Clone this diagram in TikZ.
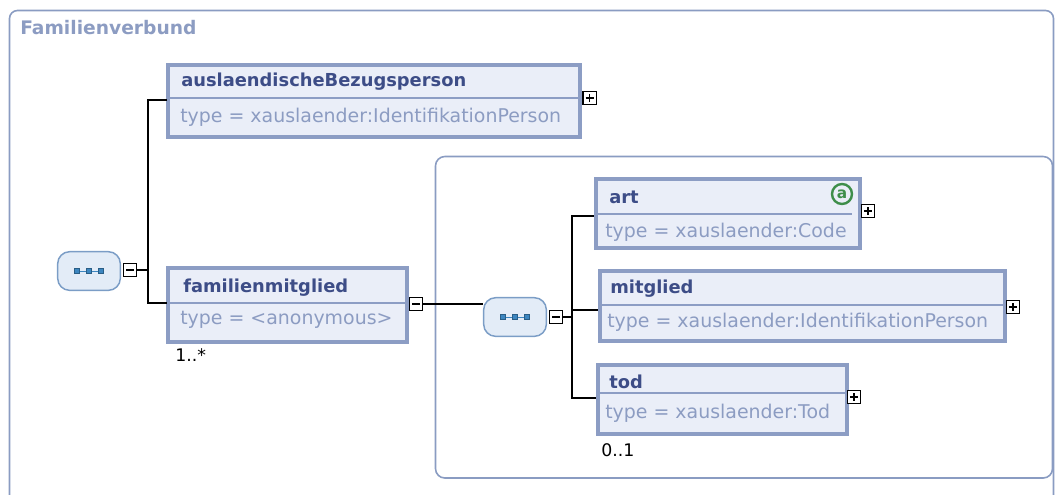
\documentclass[tikz,border=0pt]{standalone}
\usepackage{fontspec}
\setmainfont{DejaVu Sans}
\definecolor{frameC}{HTML}{8A9CC2}
\definecolor{boxB}{HTML}{8C9DC4}
\definecolor{boxF}{HTML}{EAEEF8}
\definecolor{headT}{HTML}{3D4D87}
\definecolor{typeT}{HTML}{8C9CC2}
\definecolor{seqB}{HTML}{7B9DC6}
\definecolor{seqF}{HTML}{E3ECF7}
\definecolor{seqI}{HTML}{3C86C0}
\definecolor{attrG}{HTML}{3E8E4A}
\tikzset{
  x=0.75pt, y=-0.75pt,
  elbox/.style={draw=boxB, fill=boxF, line width=2.4pt},
  divline/.style={draw=boxB, line width=1.1pt},
  headtxt/.style={font=\fontsize{13.4}{15}\selectfont\bfseries, text=headT, anchor=west, inner sep=0pt},
  typetxt/.style={font=\fontsize{14.2}{16}\selectfont, text=typeT, anchor=west, inner sep=0pt},
  conn/.style={draw=black, line width=1.1pt},
  togbox/.style={draw=black, fill=white, line width=1pt, minimum width=10pt, minimum height=10pt, inner sep=0pt},
  seqnode/.style={draw=seqB, fill=seqF, line width=1.1pt, rounded corners=9pt, minimum width=47pt, minimum height=29pt},
  card/.style={font=\fontsize{13}{15}\selectfont, anchor=west, inner sep=0pt},
  sqI/.style={draw=seqI!70!black, fill=seqI, line width=0.4pt, minimum size=4pt, inner sep=0pt},
  plusmark/.style={line width=1pt},
}
\begin{document}
\begin{tikzpicture}
\useasboundingbox (0,0) rectangle (1063,494);
% outer frame
\draw[draw=frameC, line width=1.2pt, rounded corners=6pt] (9.5,10.5) -- (1053.5,10.5) -- (1053.5,510) -- (9.5,510) -- cycle;
\node[font=\fontsize{14}{16}\selectfont\bfseries, text=typeT, anchor=west, inner sep=0pt] (title) at (20,28) {Familienverbund};
% inner group frame
\draw[draw=frameC, line width=1.2pt, rounded corners=7pt] (435.5,156.5) rectangle (1052.5,478);

% ---- auslaendischeBezugsperson
\draw[elbox] (168,65) rectangle (580,137);
\draw[divline] (169,98) -- (579,98);
\node[headtxt] (h1) at (181,82) {auslaendischeBezugsperson};
\node[typetxt] (t1) at (180,117) {type = xauslaender:IdentifikationPerson};
\node[togbox] (p1) at (589.5,98) {};
\draw[plusmark] ([xshift=-3pt]p1.center) -- ([xshift=3pt]p1.center) ([yshift=-3pt]p1.center) -- ([yshift=3pt]p1.center);
\coordinate (a1) at (167,100);

% ---- familienmitglied
\draw[elbox] (168,268) rectangle (407,342);
\draw[divline] (169,303) -- (406,303);
\node[headtxt] (h2) at (183,288) {familienmitglied};
\node[typetxt] (t2) at (180,320) {type = <anonymous>};
\node[card] (c2) at (175,355) {1..*};
\node[togbox] (m2) at (416,304) {};
\draw[plusmark] ([xshift=-3pt]m2.center) -- ([xshift=3pt]m2.center);
\coordinate (a2) at (167,303);

% ---- left sequence
\node[seqnode] (s1) at (89,271) {};
\draw[seqI, line width=0.6pt] ([xshift=-9pt]s1.center) -- ([xshift=9pt]s1.center);
\node[sqI] at ([xshift=-9pt]s1.center) {};
\node[sqI] at (s1.center) {};
\node[sqI] at ([xshift=9pt]s1.center) {};
\node[togbox] (ms1) at (130,270) {};
\draw[plusmark] ([xshift=-3pt]ms1.center) -- ([xshift=3pt]ms1.center);
\coordinate (j1) at (148,270);
\draw[conn] (ms1.east) -- (j1);
\draw[conn] (a1) -| (j1) |- (a2);

% ---- inner sequence
\node[seqnode] (s2) at (515,317) {};
\draw[seqI, line width=0.6pt] ([xshift=-9pt]s2.center) -- ([xshift=9pt]s2.center);
\node[sqI] at ([xshift=-9pt]s2.center) {};
\node[sqI] at (s2.center) {};
\node[sqI] at ([xshift=9pt]s2.center) {};
\draw[conn] (m2.east) -- (m2.east -| s2.west);
\node[togbox] (ms2) at (556,317) {};
\draw[plusmark] ([xshift=-3pt]ms2.center) -- ([xshift=3pt]ms2.center);
\coordinate (j2) at (572,317);
\draw[conn] (ms2.east) -- (j2);
\coordinate (b1) at (595,216);
\coordinate (b2) at (600,310);
\coordinate (b3) at (597,398);
\draw[conn] (b1) -| (j2) |- (b3);
\draw[conn] (j2 |- b2) -- (b2);

% ---- art
\draw[elbox] (596,179) rectangle (860,248);
\draw[divline] (597,214) -- (852,214);
\node[headtxt] (h3) at (609,197) {art};
\node[typetxt] (t3) at (605,232) {type = xauslaender:Code};
\node[circle, draw=attrG, line width=1.8pt, minimum size=15pt, inner sep=0pt, font=\fontsize{11.5}{12}\selectfont\bfseries, text=attrG] (at) at (842,194) {a};
\node[togbox] (p3) at (868,211) {};
\draw[plusmark] ([xshift=-3pt]p3.center) -- ([xshift=3pt]p3.center) ([yshift=-3pt]p3.center) -- ([yshift=3pt]p3.center);

% ---- mitglied
\draw[elbox] (600,271) rectangle (1005,341);
\draw[divline] (601,305) -- (1004,305);
\node[headtxt] (h4) at (610,289) {mitglied};
\node[typetxt] (t4) at (607,322) {type = xauslaender:IdentifikationPerson};
\node[togbox] (p4) at (1013,307) {};
\draw[plusmark] ([xshift=-3pt]p4.center) -- ([xshift=3pt]p4.center) ([yshift=-3pt]p4.center) -- ([yshift=3pt]p4.center);

% ---- tod
\draw[elbox] (598,365) rectangle (847,434);
\draw[divline] (599,393) -- (846,393);
\node[headtxt] (h5) at (609,382) {tod};
\node[typetxt] (t5) at (605,413) {type = xauslaender:Tod};
\node[card] (c5) at (601,450) {0..1};
\node[togbox] (p5) at (854,397) {};
\draw[plusmark] ([xshift=-3pt]p5.center) -- ([xshift=3pt]p5.center) ([yshift=-3pt]p5.center) -- ([yshift=3pt]p5.center);
\end{tikzpicture}
\end{document}
